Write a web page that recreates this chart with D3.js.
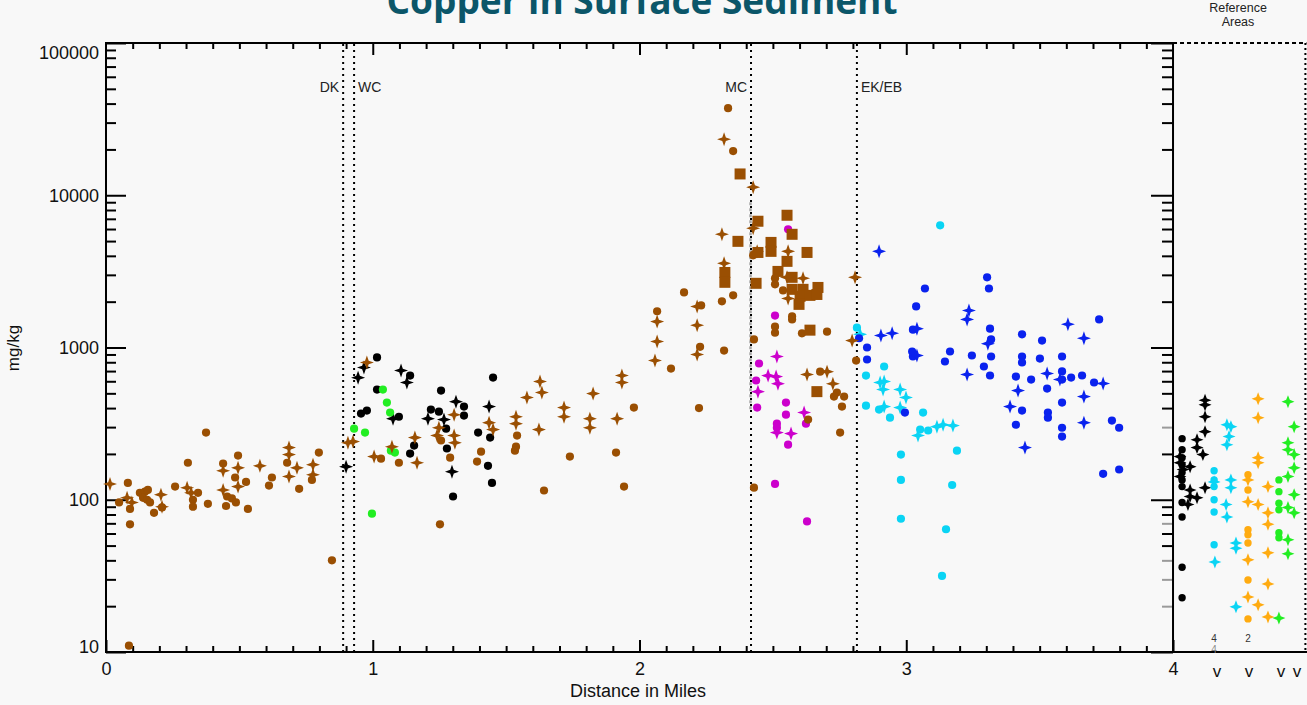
<!DOCTYPE html>
<html><head><meta charset="utf-8">
<script src="https://cdn.jsdelivr.net/npm/d3@7"></script>
<style>
html,body{margin:0;padding:0;background:#f8f8f8;}
svg{display:block;font-family:"Liberation Sans",Arial,sans-serif;}
</style></head><body>
<svg id="chart" width="1307" height="705"></svg>
<script>
// ---------- data: [distance in miles, Cu mg/kg] ----------
const brownCircles = [[0.082,129],[0.049,96],[0.090,87],[0.090,69],[0.127,111],[0.146,113],[0.157,116],[0.139,103],[0.154,100],[0.165,96],[0.180,82],[0.210,89],[0.259,122],[0.307,175],[0.345,111],[0.326,100],[0.326,90],[0.375,276],[0.382,94],[0.439,173],[0.454,105],[0.472,102],[0.450,91],[0.487,96],[0.495,195],[0.484,140],[0.525,131],[0.532,87],[0.622,140],[0.611,124],[0.679,175],[0.724,118],[0.772,135],[0.798,204],[0.847,40],[0.086,11],
[1.031,186],[1.098,175],[1.256,245],[1.290,189],[1.252,69],[1.406,207],[1.391,178],[1.541,264],[1.537,223],[1.533,210],[1.642,115],[1.739,192],[1.912,204],[1.942,122],[1.979,403],[2.066,1730],[2.118,727],[2.167,2300],[2.231,1890],[2.227,1010],[2.223,400],[2.309,2010],[2.351,2200],[2.317,955],[2.332,37300],[2.351,19500],[2.426,4030],[2.508,2850],[2.508,2600],[2.538,2370],[2.572,1600],[2.572,1530],[2.508,1370],[2.508,1250],[2.609,1240],[2.703,1270],[2.429,1130],[2.677,694],[2.740,506],[2.729,476],[2.767,476],[2.759,409],[2.632,336],[2.752,276],[2.429,120],[2.812,821]];
const brownStars = [[0.015,127],[0.079,103],[0.097,96],[0.206,108],[0.210,90],[0.304,120],[0.319,111],[0.439,155],[0.439,116],[0.495,162],[0.495,122],[0.577,167],[0.686,220],[0.686,198],[0.686,142],[0.716,162],[0.776,170],[0.776,146],[0.907,237],[0.926,241],
[0.978,797],[1.005,192],[1.072,223],[1.158,256],[1.166,175],[1.248,297],[1.241,264],[1.305,362],[1.305,264],[1.308,237],[1.436,321],[1.451,289],[1.537,351],[1.537,316],[1.578,469],[1.627,598],[1.634,506],[1.623,289],[1.717,403],[1.717,351],[1.826,498],[1.814,341],[1.814,297],[1.916,341],[1.934,655],[1.934,589],[2.058,821],[2.066,1095],[2.066,1480],[2.216,1860],[2.216,1400],[2.216,900],[2.317,3570],[2.317,23300],[2.426,11300],[2.309,5540],[2.426,6070],[2.441,4280],[2.557,4280],[2.553,2890],[2.613,2850],[2.557,2100],[2.808,2890],[2.797,1110],[2.628,664],[2.703,694],[2.725,578]];
const brownSquares = [[2.553,7390],[2.444,6750],[2.572,5540],[2.369,4980],[2.493,4900],[2.493,4280],[2.444,4210],[2.628,4210],[2.553,3680],[2.519,3160],[2.320,3110],[2.320,2680],[2.437,2640],[2.572,2890],[2.572,2410],[2.613,2410],[2.669,2480],[2.602,2170],[2.639,2200],[2.665,2230],[2.598,1920],[2.639,1300],[2.377,13800],[2.665,513]];
const blackCircles = [[1.016,860],[1.016,529],[0.956,368],[0.978,385],[1.140,654],[1.098,351],[1.256,521],[1.342,409],[1.218,391],[1.248,379],[1.342,357],[1.451,635],[1.275,293],[1.395,276],[1.440,256],[1.155,227],[1.278,217],[1.140,201],[1.432,167],[1.447,129],[1.301,105]];
const blackStars = [[0.967,739],[0.945,634],[1.106,706],[1.128,589],[1.076,341],[1.312,441],[1.207,341],[1.267,336],[1.436,409],[1.297,153],[0.900,165]];
const greenCircles = [[1.038,529],[1.053,435],[1.065,374],[0.930,293],[0.971,276],[1.068,210],[1.083,204],[0.997,81]];
const magentaCircles = [[2.557,5980],[2.508,1620],[2.448,785],[2.437,607],[2.441,403],[2.549,435],[2.549,362],[2.624,316],[2.515,316],[2.515,297],[2.557,230],[2.508,127],[2.628,72]];
const magentaStars = [[2.515,873],[2.482,654],[2.512,644],[2.519,579],[2.444,513],[2.617,374],[2.515,276],[2.568,272]];
const cyanCircles = [[3.127,6350],[2.815,1350],[2.917,750],[2.849,654],[2.898,391],[2.849,415],[2.939,346],[3.063,374],[3.052,289],[3.082,285],[3.190,210],[2.980,198],[2.980,135],[3.172,125],[2.980,75],[3.149,64],[3.134,31.6]];
const cyanStars = [[2.827,1220],[2.902,589],[2.917,598],[2.913,530],[2.977,530],[2.999,469],[2.917,409],[2.977,403],[3.115,302],[3.138,311],[3.175,307],[3.044,264]];
const blueCircles = [[3.303,2890],[3.310,2440],[3.070,2440],[3.037,1860],[3.723,1530],[2.823,1150],[3.025,1310],[3.314,1330],[3.434,1220],[3.318,1130],[3.509,1110],[2.853,1000],[3.022,941],[3.025,873],[3.164,941],[3.145,809],[3.246,886],[3.318,873],[3.434,873],[3.434,797],[3.501,846],[3.584,873],[2.853,834],[3.291,750],[3.314,655],[3.411,644],[3.468,616],[3.584,696],[3.584,616],[3.618,635],[3.659,655],[3.704,589],[3.528,537],[3.584,435],[2.995,374],[3.434,385],[3.531,374],[3.531,346],[3.771,331],[3.798,297],[3.411,311],[3.584,297],[3.584,260],[3.738,148],[3.798,158]];
const blueStars = [[2.898,4280],[3.235,1750],[3.228,1530],[3.606,1420],[2.905,1200],[2.947,1240],[3.040,1330],[3.306,1060],[3.666,1150],[3.040,886],[3.228,664],[3.528,675],[3.576,616],[3.738,580],[3.419,521],[3.666,476],[3.389,409],[3.666,321],[3.445,220]];
// reference areas (plotted to the right of mile 4)
const refBlackCircles = [[4.034,252],[4.034,213],[4.034,189],[4.034,170],[4.034,151],[4.034,135],[4.034,122],[4.034,96],[4.034,77],[4.034,36],[4.034,22.7]];
const refBlackStars = [[4.120,450],[4.120,420],[4.120,351],[4.120,280],[4.090,248],[4.090,220],[4.112,198],[4.026,192],[4.026,175],[4.064,165],[4.038,158],[4.026,142],[4.120,120],[4.064,116],[4.064,105],[4.090,103],[4.056,93]];
const refCyanCircles = [[4.154,155],[4.154,135],[4.154,122],[4.154,100],[4.154,83],[4.154,50.6]];
const refCyanStars = [[4.202,311],[4.217,302],[4.210,260],[4.202,230],[4.154,131],[4.217,135],[4.217,120],[4.199,93],[4.202,77],[4.157,39],[4.236,52],[4.236,48],[4.236,19.8]];
const refOrangeCircles = [[4.281,146],[4.281,116],[4.281,63.5],[4.281,58.9],[4.281,52],[4.281,29.7],[4.281,16.5]];
const refOrangeStars = [[4.319,460],[4.319,346],[4.319,189],[4.319,175],[4.281,135],[4.281,97],[4.319,93],[4.356,122],[4.356,82],[4.356,69],[4.356,44.8],[4.281,40.3],[4.356,28],[4.281,23],[4.319,20.4],[4.356,17]];
const refGreenCircles = [[4.397,135],[4.397,113],[4.397,95],[4.397,86],[4.397,60.7],[4.397,56.3]];
const refGreenStars = [[4.431,441],[4.454,302],[4.431,237],[4.431,213],[4.454,198],[4.454,162],[4.431,142],[4.454,108],[4.431,89],[4.454,82],[4.431,54.6],[4.431,44.2],[4.397,16.7]];

const siteNames = ["DK","WC","MC","EK/EB"];
const siteMiles = [0.889,0.930,2.418,2.815];
const siteAnchor = ["end","start","end","start"];
const xMajorTicks = [0,1,2,3,4];
const yMajorTicks = [10,100,1000,10000,100000];
const refMarkLabels = ["v","v","v","v"];
const refMarkMiles = [4.165,4.285,4.405,4.465];
const refCountLabels = ["4","2"];
const refCountMiles = [4.154,4.281];

// ---------- chart ----------
const svg = d3.select("#chart");
const x = d3.scaleLinear().domain([0,4.5]).range([106,1306.4]);
const y = d3.scaleLog().domain([10,100000]).range([652,43]);
const x0 = x(0), x4 = x(4), xr = x(4.5), yT = y(100000), yB = y(10);

svg.append("rect").attr("width",1307).attr("height",705).attr("fill","#f8f8f8");

// title
svg.append("text").attr("x",642).attr("y",14).attr("text-anchor","middle")
  .attr("font-family","'Open Sans',sans-serif").attr("font-weight",700).attr("font-size",37)
  .attr("fill","#0b5669").text("Copper in Surface Sediment");
svg.append("text").attr("x",1238).attr("y",11.5).attr("text-anchor","middle").attr("font-size",12.5).attr("fill","#222").text("Reference");
svg.append("text").attr("x",1238).attr("y",25.5).attr("text-anchor","middle").attr("font-size",12.5).attr("fill","#222").text("Areas");

// minor tick values
const xMinor = d3.range(0,41).map(i=>i/10).filter(v=>Math.abs(v-Math.round(v))>1e-6);
const yMinor = [];
[10,100,1000,10000].forEach(b=>{for(let k=2;k<=9;k++) yMinor.push(b*k);});

function styleAxis(g){
  g.select(".domain").remove();
  g.selectAll(".tick line").attr("stroke","#000").attr("stroke-width",2);
  g.selectAll("text").attr("fill","#111").attr("font-size",18).attr("font-family","'Liberation Sans',Arial,sans-serif");
}
// bottom axis
svg.append("g").attr("transform",`translate(0,${yB})`)
  .call(d3.axisBottom(x).tickValues(xMinor).tickSize(-6).tickFormat(""))
  .call(styleAxis);
svg.append("g").attr("transform",`translate(0,${yB})`)
  .call(d3.axisBottom(x).tickValues(xMajorTicks).tickSize(-12).tickPadding(10).tickFormat(d3.format("d")))
  .call(styleAxis);
// top axis
svg.append("g").attr("transform",`translate(0,${yT})`)
  .call(d3.axisTop(x).tickValues(xMinor).tickSize(-6).tickFormat(""))
  .call(styleAxis);
svg.append("g").attr("transform",`translate(0,${yT})`)
  .call(d3.axisTop(x).tickValues([1,2,3]).tickSize(-12).tickFormat(""))
  .call(styleAxis);
// left axis
svg.append("g").attr("transform",`translate(${x0},0)`)
  .call(d3.axisLeft(y).tickValues(yMinor).tickSize(-10).tickFormat(""))
  .call(styleAxis);
const yl = svg.append("g").attr("transform",`translate(${x0},0)`)
  .call(d3.axisLeft(y).tickValues(yMajorTicks).tickSize(-20).tickPadding(7).tickFormat(d3.format("d")))
  .call(styleAxis);
yl.selectAll(".tick text").attr("dy",d=> d===100000 ? "0.85em" : (d===10 ? "0" : "0.32em"));
// right axis (at mile 4)
const gray = new Set([20,30,40,70,300]);
svg.append("g").attr("transform",`translate(${x4},0)`)
  .call(d3.axisRight(y).tickValues(yMinor).tickSize(-11).tickFormat(""))
  .call(styleAxis)
  .selectAll(".tick line").attr("stroke",d=>gray.has(d)?"#9a9a9a":"#000");
svg.append("g").attr("transform",`translate(${x4},0)`)
  .call(d3.axisRight(y).tickValues(yMajorTicks).tickSize(-22).tickFormat(""))
  .call(styleAxis);

// frame
const frame = svg.append("g").attr("stroke","#000").attr("stroke-width",2);
frame.append("line").attr("x1",x0).attr("x2",x0).attr("y1",yT-1).attr("y2",yB+1);
frame.append("line").attr("x1",x0-1).attr("x2",x4).attr("y1",yT).attr("y2",yT);
frame.append("line").attr("x1",x0-1).attr("x2",1307).attr("y1",yB).attr("y2",yB);
frame.append("line").attr("x1",x4).attr("x2",x4).attr("y1",yT-1).attr("y2",yB);
frame.append("line").attr("x1",x4).attr("x2",xr).attr("y1",yT).attr("y2",yT).attr("stroke-dasharray","4,3");
frame.append("line").attr("x1",xr-1).attr("x2",xr-1).attr("y1",yT).attr("y2",yB).attr("stroke-dasharray","2,3");

// site boundary lines
siteMiles.forEach((m,i)=>{
  svg.append("line").attr("x1",x(m)).attr("x2",x(m)).attr("y1",yT+1).attr("y2",yB)
    .attr("stroke","#000").attr("stroke-width",2).attr("stroke-dasharray","2,4");
  svg.append("text").attr("x",x(m)+(siteAnchor[i]==="end"?-4:4)).attr("y",92)
    .attr("text-anchor",siteAnchor[i]).attr("font-size",14).attr("fill","#222").text(siteNames[i]);
});
svg.append("line").attr("x1",x(siteMiles[2])-0.5).attr("x2",x(siteMiles[2])-0.5).attr("y1",y(9000)).attr("y2",y(390))
  .attr("stroke","#a8a8a8").attr("stroke-width",2.5).attr("stroke-dasharray","3,3");

// markers
const starPath = (r,w)=>`M0,${-r}L${w},${-w}L${r},0L${w},${w}L0,${r}L${-w},${w}L${-r},0L${-w},${-w}Z`;
function circles(data,color,r=4.1){
  svg.append("g").selectAll("circle").data(data).join("circle")
    .attr("cx",d=>x(d[0])).attr("cy",d=>y(d[1])).attr("r",r).attr("fill",color);
}
function stars(data,color,r=7,w=1.8){
  svg.append("g").selectAll("path").data(data).join("path")
    .attr("d",starPath(r,w)).attr("transform",d=>`translate(${x(d[0])},${y(d[1])})`).attr("fill",color);
}
function squares(data,color,s=11){
  svg.append("g").selectAll("rect").data(data).join("rect")
    .attr("x",d=>x(d[0])-s/2).attr("y",d=>y(d[1])-s/2).attr("width",s).attr("height",s).attr("fill",color);
}
const BROWN="#9a4f02", BLACK="#000", GREEN="#22ee22", MAG="#cc00cc", CYAN="#0ad4f4", BLUE="#0a22ee", ORANGE="#ffab10";
circles(blackCircles,BLACK); stars(blackStars,BLACK);
circles(greenCircles,GREEN);
circles(magentaCircles,MAG); stars(magentaStars,MAG);
circles(cyanCircles,CYAN); stars(cyanStars,CYAN);
circles(blueCircles,BLUE); stars(blueStars,BLUE);
circles(brownCircles,BROWN); stars(brownStars,BROWN); squares(brownSquares,BROWN);
circles(refBlackCircles,BLACK,3.7); stars(refBlackStars,BLACK,6.5);
circles(refCyanCircles,CYAN,3.7); stars(refCyanStars,CYAN,6.5);
circles(refOrangeCircles,ORANGE,3.7); stars(refOrangeStars,ORANGE,6.5);
circles(refGreenCircles,GREEN,3.7); stars(refGreenStars,GREEN,6.5);

// reference area small labels
refCountLabels.forEach((t,i)=>{
  svg.append("text").attr("x",x(refCountMiles[i])).attr("y",642).attr("text-anchor","middle")
    .attr("font-size",10).attr("fill","#333").text(t);
});
svg.append("text").attr("x",x(refCountMiles[0])).attr("y",653).attr("text-anchor","middle")
  .attr("font-size",10).attr("fill","#888").text(refCountLabels[0]);
refMarkLabels.forEach((t,i)=>{
  svg.append("text").attr("x",x(refMarkMiles[i])).attr("y",677).attr("text-anchor","middle")
    .attr("font-size",17).attr("fill","#111").text(t);
});

// axis titles
svg.append("text").attr("x",638).attr("y",697).attr("text-anchor","middle").attr("font-size",18).attr("fill","#111").text("Distance in Miles");
svg.append("text").attr("transform","translate(19,348) rotate(-90)").attr("text-anchor","middle").attr("font-size",17).attr("fill","#111").text("mg/kg");
</script>
</body></html>
